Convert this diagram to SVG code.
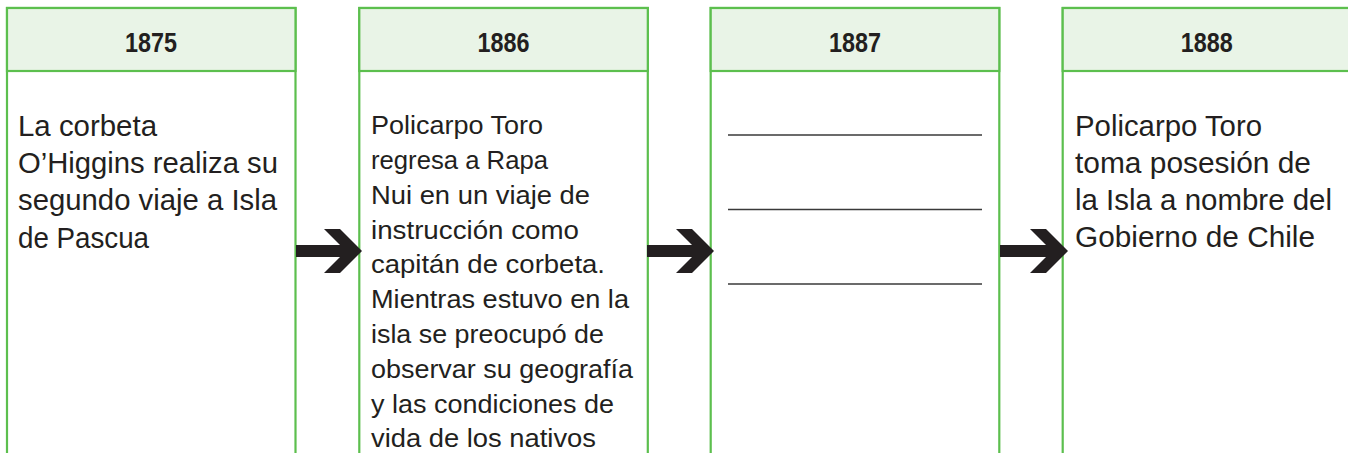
<svg xmlns="http://www.w3.org/2000/svg" width="1348" height="453" viewBox="0 0 1348 453">
<style>
.box{fill:#ffffff;stroke:#5cbf4e;stroke-width:2.2}
.head{fill:#e9f4e7;stroke:#5cbf4e;stroke-width:2.2}
.year{font-family:"Liberation Sans",Arial,sans-serif;font-weight:bold;font-size:28px;fill:#231f20;text-anchor:middle}
.big{font-family:"Liberation Sans",Arial,sans-serif;font-size:28.8px;fill:#231f20}
.small{font-family:"Liberation Sans",Arial,sans-serif;font-size:26.5px;fill:#231f20}
.blank{stroke:#3a3a3a;stroke-width:1.3}
.arrow{fill:#231f20}
</style>
<rect width="1348" height="453" fill="#ffffff"/>
<g id="node-1875">
<rect class="box" x="7" y="8" width="288.5" height="460"/>
<rect class="head" x="7" y="8" width="288.5" height="63"/>
<text class="year" x="151" y="52" textLength="52" lengthAdjust="spacingAndGlyphs">1875</text>
<text class="big" x="18" y="136" textLength="139" lengthAdjust="spacingAndGlyphs">La corbeta</text>
<text class="big" x="18" y="173.2" textLength="260" lengthAdjust="spacingAndGlyphs">O’Higgins realiza su</text>
<text class="big" x="18" y="210.4" textLength="259" lengthAdjust="spacingAndGlyphs">segundo viaje a Isla</text>
<text class="big" x="18" y="247.6" textLength="131" lengthAdjust="spacingAndGlyphs">de Pascua</text>
</g>
<g id="node-1886">
<rect class="box" x="359.3" y="8" width="288.5" height="460"/>
<rect class="head" x="359.3" y="8" width="288.5" height="63"/>
<text class="year" x="503.5" y="52" textLength="52" lengthAdjust="spacingAndGlyphs">1886</text>
<text class="small" x="371" y="134.3" textLength="172" lengthAdjust="spacingAndGlyphs">Policarpo Toro</text>
<text class="small" x="371" y="169.1" textLength="177" lengthAdjust="spacingAndGlyphs">regresa a Rapa</text>
<text class="small" x="371" y="203.9" textLength="219" lengthAdjust="spacingAndGlyphs">Nui en un viaje de</text>
<text class="small" x="371" y="238.6" textLength="208" lengthAdjust="spacingAndGlyphs">instrucción como</text>
<text class="small" x="371" y="273.4" textLength="234" lengthAdjust="spacingAndGlyphs">capitán de corbeta.</text>
<text class="small" x="371" y="308.2" textLength="258" lengthAdjust="spacingAndGlyphs">Mientras estuvo en la</text>
<text class="small" x="371" y="343" textLength="233" lengthAdjust="spacingAndGlyphs">isla se preocupó de</text>
<text class="small" x="371" y="377.7" textLength="262" lengthAdjust="spacingAndGlyphs">observar su geografía</text>
<text class="small" x="371" y="412.5" textLength="243" lengthAdjust="spacingAndGlyphs">y las condiciones de</text>
<text class="small" x="371" y="447.3" textLength="225" lengthAdjust="spacingAndGlyphs">vida de los nativos</text>
</g>
<g id="node-1887">
<rect class="box" x="710.7" y="8" width="288.6" height="460"/>
<rect class="head" x="710.7" y="8" width="288.6" height="63"/>
<text class="year" x="855" y="52" textLength="52" lengthAdjust="spacingAndGlyphs">1887</text>
<line class="blank" x1="728" y1="135" x2="982" y2="135"/>
<line class="blank" x1="728" y1="209.5" x2="982" y2="209.5"/>
<line class="blank" x1="728" y1="284" x2="982" y2="284"/>
</g>
<g id="node-1888">
<rect class="box" x="1062.7" y="8" width="288.6" height="460"/>
<rect class="head" x="1062.7" y="8" width="288.6" height="63"/>
<text class="year" x="1206.7" y="52" textLength="52" lengthAdjust="spacingAndGlyphs">1888</text>
<text class="big" x="1075" y="136" textLength="187" lengthAdjust="spacingAndGlyphs">Policarpo Toro</text>
<text class="big" x="1075" y="173" textLength="236" lengthAdjust="spacingAndGlyphs">toma posesión de</text>
<text class="big" x="1075" y="210" textLength="257" lengthAdjust="spacingAndGlyphs">la Isla a nombre del</text>
<text class="big" x="1075" y="247.4" textLength="240" lengthAdjust="spacingAndGlyphs">Gobierno de Chile</text>
</g>
<g id="connectors">
<polygon class="arrow" points="296,245 340,245 324,229 340,229 362,251 340,273 324,273 340,257 296,257"/>
<polygon class="arrow" points="647,245 692,245 676,229 692,229 714,251 692,273 676,273 692,257 647,257"/>
<polygon class="arrow" points="1000,245 1046,245 1030,229 1046,229 1068,251 1046,273 1030,273 1046,257 1000,257"/>
</g>
</svg>
